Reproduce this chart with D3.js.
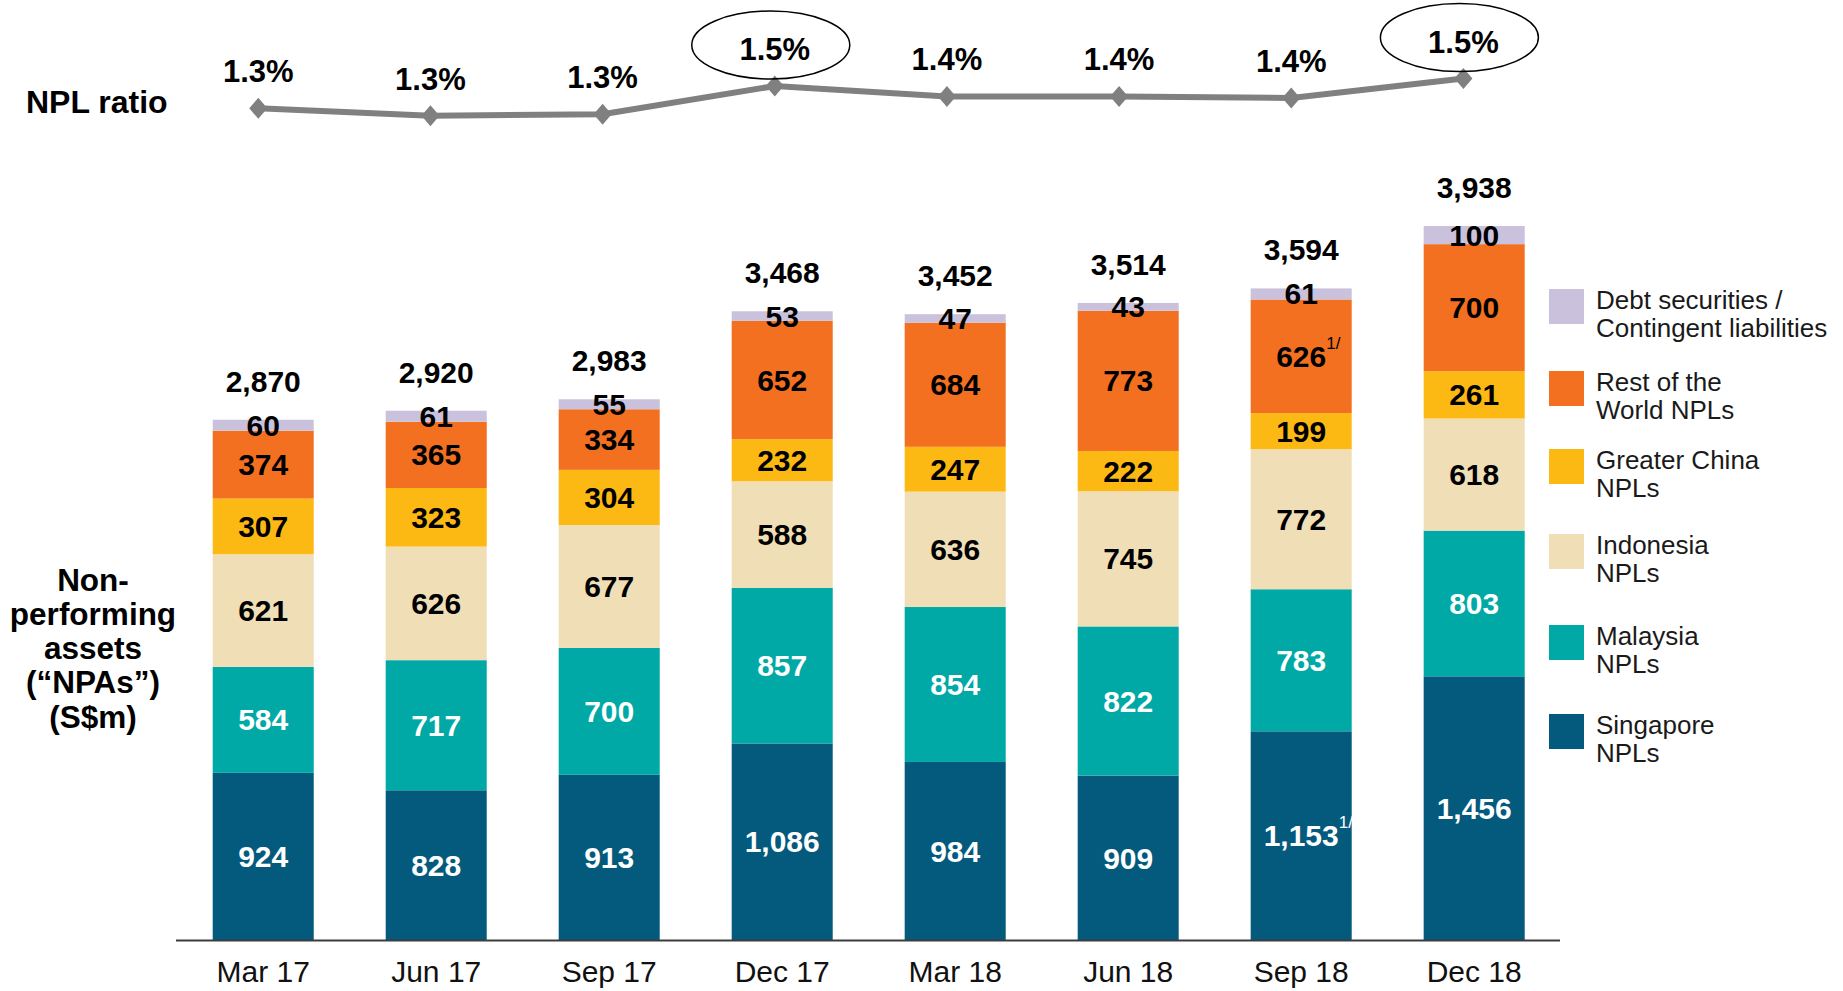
<!DOCTYPE html>
<html>
<head>
<meta charset="utf-8">
<title>Non-performing assets</title>
<script src="https://cdnjs.cloudflare.com/ajax/libs/d3/7.8.5/d3.min.js"></script>
<style>
	body { margin: 0; background: #fff; }
	svg { display: block; font-family: "Liberation Sans", Arial, sans-serif; }
</style>
</head>
<body>
<svg id="chart" width="1843" height="991"></svg>
<script>
// quarters on the x axis
var quarters = ["Mar 17", "Jun 17", "Sep 17", "Dec 17", "Mar 18", "Jun 18", "Sep 18", "Dec 18"];

// NPA components (S$m), bottom to top of each bar
var singapore   = [924, 828, 913, 1086, 984, 909, 1153, 1456];
var malaysia    = [584, 717, 700, 857, 854, 822, 783, 803];
var indonesia   = [621, 626, 677, 588, 636, 745, 772, 618];
var greaterChina = [307, 323, 304, 232, 247, 222, 199, 261];
var restOfWorld = [374, 365, 334, 652, 684, 773, 626, 700];
var debtSecurities = [60, 61, 55, 53, 47, 43, 61, 100];

// NPL ratio (%)
var nplRatio = [1.34, 1.29, 1.30, 1.49, 1.42, 1.42, 1.41, 1.54];
var circled = ["Dec 17", "Dec 18"];

// values carrying a "1/" footnote
var footnotes = [["Sep 18", "singapore"], ["Sep 18", "restOfWorld"]];

var keys = ["singapore", "malaysia", "indonesia", "greaterChina", "restOfWorld", "debtSecurities"];
var legendLabels = {
	debtSecurities: ["Debt securities /", "Contingent liabilities"],
	restOfWorld: ["Rest of the", "World NPLs"],
	greaterChina: ["Greater China", "NPLs"],
	indonesia: ["Indonesia", "NPLs"],
	malaysia: ["Malaysia", "NPLs"],
	singapore: ["Singapore", "NPLs"]
};
var colors = {
	singapore: "#035a7c",
	malaysia: "#00a9a5",
	indonesia: "#f0dfb6",
	greaterChina: "#fdb913",
	restOfWorld: "#f37021",
	debtSecurities: "#cac2dc"
};
var whiteText = ["singapore", "malaysia"];

var series = {
	singapore: singapore, malaysia: malaysia, indonesia: indonesia,
	greaterChina: greaterChina, restOfWorld: restOfWorld, debtSecurities: debtSecurities
};

// one row per quarter for d3.stack
var rows = quarters.map(function(q, i) {
	var row = {quarter: q};
	keys.forEach(function(k) { row[k] = series[k][i]; });
	row.total = d3.sum(keys, function(k) { return series[k][i]; });
	return row;
});

var svg = d3.select("#chart");
var fmt = d3.format(",");

var x = d3.scaleBand()
	.domain(quarters)
	.range([212.7, 1524.7])
	.paddingInner(0.416);
var y = d3.scaleLinear()
	.domain([0, d3.max(rows, function(d) { return d.total; })])
	.range([940.5, 226]);

var stacked = d3.stack().keys(keys)(rows);

// bars
var layers = svg.append("g").selectAll("g")
	.data(stacked)
	.enter()
	.append("g")
		.attr("fill", function(d) { return colors[d.key]; });

layers.selectAll("rect")
	.data(function(d) { return d; })
	.enter()
	.append("rect")
		.attr("x", function(d) { return x(d.data.quarter); })
		.attr("y", function(d) { return y(d[1]); })
		.attr("width", x.bandwidth())
		.attr("height", function(d) { return y(d[0]) - y(d[1]); });

// segment values
stacked.forEach(function(layer) {
	svg.append("g").selectAll("text")
		.data(layer)
		.enter()
		.append("text")
			.attr("class", function(d) { return "seg " + layer.key + " q" + quarters.indexOf(d.data.quarter); })
			.attr("x", function(d) { return x(d.data.quarter) + x.bandwidth() / 2; })
			.attr("y", function(d) { return y((d[0] + d[1]) / 2); })
			.attr("dy", "0.35em")
			.attr("text-anchor", "middle")
			.attr("font-size", 30)
			.attr("font-weight", "bold")
			.attr("fill", whiteText.indexOf(layer.key) > -1 ? "#fff" : "#000")
			.text(function(d) { return fmt(d.data[layer.key]); });
});

// "1/" footnote marks, tucked against the right of the value
footnotes.forEach(function(f) {
	var label = svg.select("text.seg." + f[1] + ".q" + quarters.indexOf(f[0]));
	var w = label.node().getComputedTextLength();
	svg.append("text")
		.attr("x", +label.attr("x") + w / 2)
		.attr("y", +label.attr("y"))
		.attr("dy", "-0.45em")
		.attr("font-size", 17)
		.attr("fill", label.attr("fill"))
		.text("1/");
});

// totals
svg.append("g").selectAll("text")
	.data(rows)
	.enter()
	.append("text")
		.attr("x", function(d) { return x(d.quarter) + x.bandwidth() / 2; })
		.attr("y", function(d) { return y(d.total) - 28; })
		.attr("text-anchor", "middle")
		.attr("font-size", 30)
		.attr("font-weight", "bold")
		.text(function(d) { return fmt(d.total); });

// baseline
svg.append("line")
	.attr("x1", 176)
	.attr("x2", 1560)
	.attr("y1", 940.5)
	.attr("y2", 940.5)
	.attr("stroke", "#3c3c3c")
	.attr("stroke-width", 2);

// x axis labels
var xAxis = svg.append("g")
	.attr("transform", "translate(0,940.5)")
	.call(d3.axisBottom(x).tickSize(0).tickPadding(20));
xAxis.select(".domain").remove();
xAxis.selectAll("text")
	.attr("font-size", 30)
	.attr("font-family", "'Liberation Sans', Arial, sans-serif")
	.attr("fill", "#111");

// NPL ratio line
var xr = d3.scalePoint().domain(quarters).range([258.3, 1463.4]);
var yr = d3.scaleLinear().domain([1.3, 1.5]).range([114.3, 84.5]);

var line = d3.line()
	.x(function(d, i) { return xr(quarters[i]); })
	.y(function(d) { return yr(d); });

svg.append("path")
	.datum(nplRatio)
	.attr("d", line)
	.attr("fill", "none")
	.attr("stroke", "#808080")
	.attr("stroke-width", 6);

svg.append("g").selectAll("path")
	.data(nplRatio)
	.enter()
	.append("path")
		.attr("d", d3.symbol().type(d3.symbolSquare).size(220))
		.attr("transform", function(d, i) { return "translate(" + xr(quarters[i]) + "," + yr(d) + ") scale(0.86,1) rotate(45)"; })
		.attr("fill", "#808080");

svg.append("g").selectAll("text")
	.data(nplRatio)
	.enter()
	.append("text")
		.attr("x", function(d, i) { return xr(quarters[i]); })
		.attr("y", function(d) { return yr(d) - 26; })
		.attr("text-anchor", "middle")
		.attr("font-size", 31)
		.attr("font-weight", "bold")
		.text(function(d) { return d3.format(".1f")(d) + "%"; });

// circles round the highlighted ratios
svg.append("g").selectAll("ellipse")
	.data(circled)
	.enter()
	.append("ellipse")
		.attr("cx", function(q) { return xr(q) - 4; })
		.attr("cy", function(q) { return yr(nplRatio[quarters.indexOf(q)]) - 41; })
		.attr("rx", 79)
		.attr("ry", 34)
		.attr("fill", "none")
		.attr("stroke", "#000")
		.attr("stroke-width", 1.5);

// titles on the left
svg.append("text")
	.attr("x", 26)
	.attr("y", 112.7)
	.attr("font-size", 32)
	.attr("font-weight", "bold")
	.text("NPL ratio");

var npaTitle = ["Non-", "performing", "assets", "(\u201cNPAs\u201d)", "(S$m)"];
svg.append("text")
	.attr("text-anchor", "middle")
	.attr("font-size", 31.5)
	.attr("font-weight", "bold")
	.selectAll("tspan")
	.data(npaTitle)
	.enter()
	.append("tspan")
		.attr("x", 93)
		.attr("y", function(d, i) { return 590.7 + i * 34.2; })
		.text(function(d) { return d; });

// legend, top entry first; slots follow the uneven spacing of the original
var legendKeys = keys.slice().reverse();
var legendTop = [289, 371, 449, 534, 625, 714];

var legend = svg.append("g").selectAll("g")
	.data(legendKeys)
	.enter()
	.append("g")
		.attr("transform", function(k, i) { return "translate(1549," + legendTop[i] + ")"; });

legend.append("rect")
	.attr("width", 35)
	.attr("height", 35)
	.attr("fill", function(k) { return colors[k]; });

legend.append("text")
	.attr("font-size", 26)
	.attr("fill", "#1a1a1a")
	.selectAll("tspan")
	.data(function(k) { return legendLabels[k]; })
	.enter()
	.append("tspan")
		.attr("x", 47)
		.attr("y", function(d, i) { return 19.7 + i * 28.5; })
		.text(function(d) { return d; });
</script>
</body>
</html>
